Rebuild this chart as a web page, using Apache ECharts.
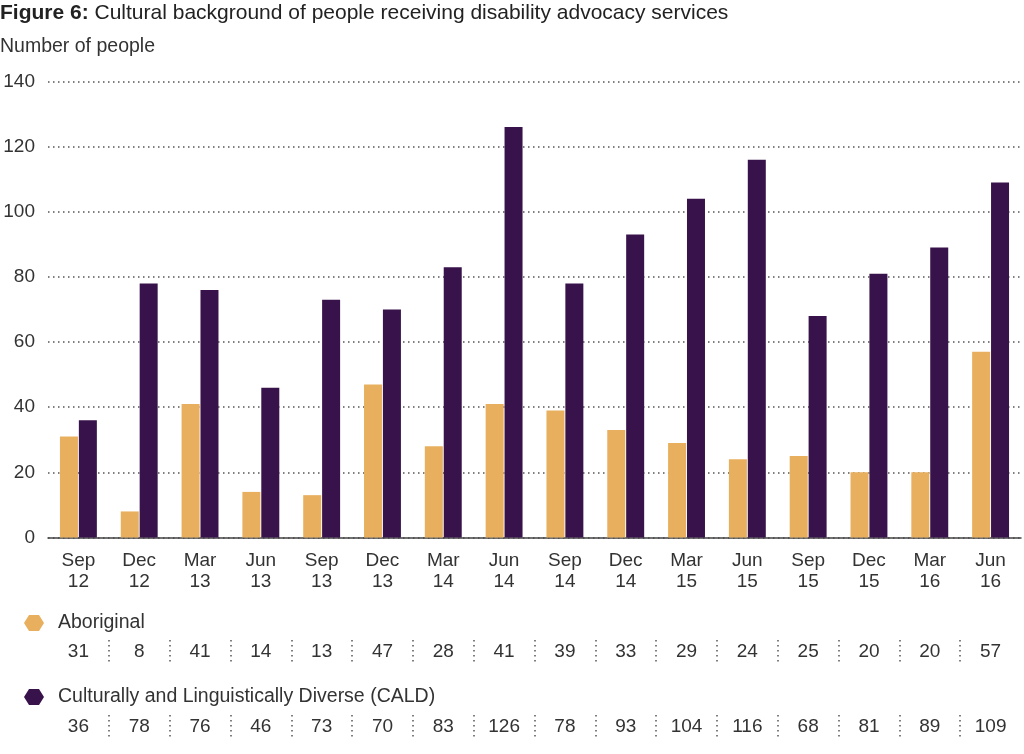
<!DOCTYPE html>
<html>
<head>
<meta charset="utf-8">
<script src="https://cdn.jsdelivr.net/npm/echarts@6/dist/echarts.min.js"></script>
<style>html,body{margin:0;padding:0;background:#fff}#c{width:1024px;height:754px}</style>
</head>
<body>
<div id="c"></div>
<script>
var categories = ['Sep 12','Dec 12','Mar 13','Jun 13','Sep 13','Dec 13','Mar 14','Jun 14','Sep 14','Dec 14','Mar 15','Jun 15','Sep 15','Dec 15','Mar 16','Jun 16'];
var aboriginal = [31, 8, 41, 14, 13, 47, 28, 41, 39, 33, 29, 24, 25, 20, 20, 57];
var cald = [36, 78, 76, 46, 73, 70, 83, 126, 78, 93, 104, 116, 68, 81, 89, 109];
var yTicks = {min: 0, max: 140, interval: 20};
var seriesNames = ['Aboriginal', 'Culturally and Linguistically Diverse (CALD)'];

var FONT = '"Liberation Sans", Arial, sans-serif';
var TXT = '#333';
var FS = 19;
var C1 = '#E8B05E', C2 = '#38124A';
var HEX = 'path://M0,8 L5,0 L15,0 L20,8 L15,16 L5,16 Z';

var chart = echarts.init(document.getElementById('c'), null, {renderer: 'canvas'});

function tableAxis(idx, vals) {
  return {
    type: 'category', gridIndex: idx, data: vals.map(String), position: 'bottom',
    axisLine: {show: false}, axisTick: {show: false},
    axisLabel: {inside: true, margin: 10, verticalAlign: 'middle', fontSize: FS, color: TXT, fontFamily: FONT, interval: 0},
    splitLine: {show: true, showMinLine: false, showMaxLine: false, lineStyle: {color: '#555', width: 1.5, type: [1.5, 3.5]}}
  };
}

chart.setOption({
  animation: false,
  textStyle: {fontFamily: FONT},
  title: [
    {text: '{b|Figure 6:} Cultural background of people receiving disability advocacy services', left: 0, top: 3, padding: 0,
     textStyle: {fontSize: 21, fontWeight: 'normal', color: '#222', fontFamily: FONT,
       rich: {b: {fontSize: 21, fontWeight: 'bold', color: '#222', fontFamily: FONT}}}},
    {text: 'Number of people', left: 0, top: 37, padding: 0,
     textStyle: {fontSize: 19.5, fontWeight: 'normal', color: TXT, fontFamily: FONT}}
  ],
  legend: [
    {data: [seriesNames[0]], left: 19, top: 608, icon: HEX, itemWidth: 20, itemHeight: 16, selectedMode: false,
     textStyle: {fontSize: 19.5, color: TXT, fontFamily: FONT, padding: [0, 0, 0, 9]}},
    {data: [seriesNames[1]], left: 19, top: 682, icon: HEX, itemWidth: 20, itemHeight: 16, selectedMode: false,
     textStyle: {fontSize: 19.5, color: TXT, fontFamily: FONT, padding: [0, 0, 0, 9]}}
  ],
  grid: [
    {left: 48, right: 3, top: 81.5, height: 456},
    {left: 48, right: 3, top: 640, height: 22},
    {left: 48, right: 3, top: 715, height: 22}
  ],
  xAxis: [
    {type: 'category', gridIndex: 0, data: categories,
     axisLine: {lineStyle: {color: '#444', width: 1.5}}, axisTick: {show: false},
     axisLabel: {interval: 0, margin: 13, fontSize: FS, lineHeight: 21, color: TXT, fontFamily: FONT,
       formatter: function (v) { return v.replace(' ', '\n'); }}},
    tableAxis(1, aboriginal),
    tableAxis(2, cald)
  ],
  yAxis: [
    {type: 'value', gridIndex: 0, min: yTicks.min, max: yTicks.max, interval: yTicks.interval,
     axisLine: {show: false}, axisTick: {show: false},
     axisLabel: {margin: 13, fontSize: FS, color: TXT, fontFamily: FONT},
     splitLine: {lineStyle: {color: '#555', width: 1.5, type: [1.5, 3.5]}}},
    {type: 'value', gridIndex: 1, min: 0, max: 1, show: false},
    {type: 'value', gridIndex: 2, min: 0, max: 1, show: false}
  ],
  series: [
    {name: seriesNames[0], type: 'bar', xAxisIndex: 0, yAxisIndex: 0, data: aboriginal, barWidth: 18, barGap: '5%', itemStyle: {color: C1}},
    {name: seriesNames[1], type: 'bar', xAxisIndex: 0, yAxisIndex: 0, data: cald, barWidth: 18, barGap: '5%', itemStyle: {color: C2}}
  ]
});
</script>
</body>
</html>
